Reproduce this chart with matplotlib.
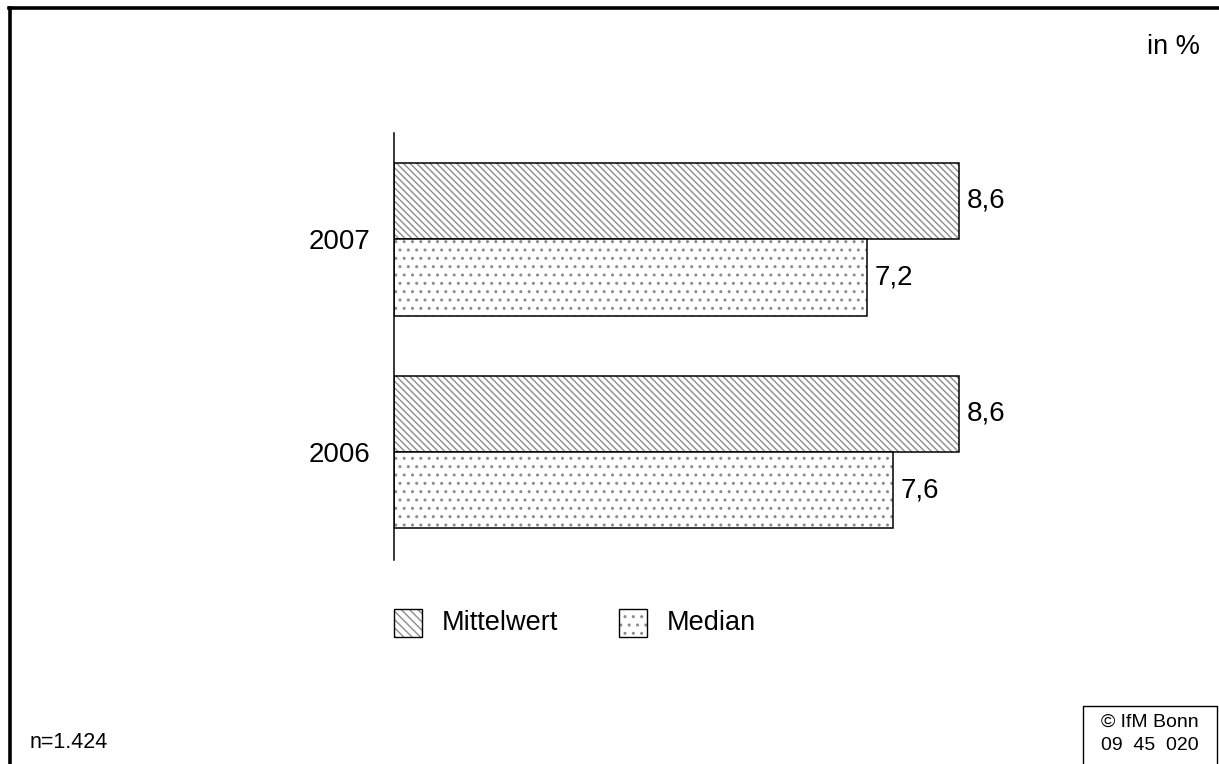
import matplotlib
matplotlib.use("Agg")
import matplotlib.pyplot as plt
from matplotlib.patches import Rectangle
from matplotlib.lines import Line2D

years = ["2006", "2007"]
mittelwert = [8.6, 8.6]
median = [7.6, 7.2]
series_names = ["Mittelwert", "Median"]
value_labels_mw = ["8,6", "8,6"]
value_labels_md = ["7,6", "7,2"]

plt.rcParams['font.family'] = ['Liberation Sans', 'DejaVu Sans']
plt.rcParams['hatch.linewidth'] = 1.0

W, H = 1219, 764
fig = plt.figure(figsize=(W / 100, H / 100), dpi=100)

def fx(px):
    return px / W

def fy(py):
    return 1 - py / H

# axes
ax_left, ax_right = 394, 394 + 657
ax_top, ax_bot = 133, 560
ax = fig.add_axes([fx(ax_left), fy(ax_bot), fx(ax_right - ax_left), (ax_bot - ax_top) / H])
ax.set_xlim(0, 10)
ax.set_ylim(-0.507, 1.498)

ypos = list(range(len(years)))
h = 0.359
hatch_gray = '#8c8c8c'
y_mw = [y + h / 2 for y in ypos]
y_md = [y - h / 2 for y in ypos]

ax.barh(y_mw, mittelwert, height=h, color='white', hatch='\\\\\\\\\\', edgecolor=hatch_gray, linewidth=0)
ax.barh(y_mw, mittelwert, height=h, fill=False, edgecolor='black', linewidth=1.1)
ax.barh(y_md, median, height=h, color='white', hatch='..', edgecolor=hatch_gray, linewidth=0)
ax.barh(y_md, median, height=h, fill=False, edgecolor='black', linewidth=1.1)

for y, v, t in zip(y_mw, mittelwert, value_labels_mw):
    ax.annotate(t, (v, y), xytext=(5.5, 0), textcoords='offset points', va='center', ha='left', fontsize=20)
for y, v, t in zip(y_md, median, value_labels_md):
    ax.annotate(t, (v, y), xytext=(5.5, 0), textcoords='offset points', va='center', ha='left', fontsize=20)

ax.set_yticks(ypos)
ax.set_yticklabels(years, fontsize=20)
ax.tick_params(axis='y', length=0, pad=17)
ax.set_xticks([])
for s in ['top', 'right', 'bottom']:
    ax.spines[s].set_visible(False)
ax.spines['left'].set_linewidth(1.1)
ax.patch.set_visible(False)

# legend
def legend_item(x, y, size, hatch, label, tx):
    r1 = Rectangle((fx(x), fy(y + size)), fx(size), size / H, transform=fig.transFigure,
                   facecolor='white', hatch=hatch, edgecolor=hatch_gray, linewidth=0)
    r2 = Rectangle((fx(x), fy(y + size)), fx(size), size / H, transform=fig.transFigure,
                   fill=False, edgecolor='black', linewidth=1.0)
    fig.add_artist(r1)
    fig.add_artist(r2)
    fig.text(fx(tx), fy(y + size / 2), label, fontsize=19.5, va='center', ha='left')

legend_item(394, 609, 28, '\\\\\\\\', series_names[0], 442)
legend_item(619, 609, 28, '..', series_names[1], 667)

# frame
fig.add_artist(Line2D([fx(10), fx(10)], [fy(7.5), 0], transform=fig.transFigure, color='black', linewidth=2.6))
fig.add_artist(Line2D([fx(8.5), 1], [fy(7.5), fy(7.5)], transform=fig.transFigure, color='black', linewidth=2.6))

fig.text(fx(1200), fy(47), "in %", fontsize=19.5, ha='right', va='center')
fig.text(fx(30), fy(748), "n=1.424", fontsize=15.5, ha='left', va='baseline')

# copyright box
fig.add_artist(Line2D([fx(1083), fx(1083), fx(1217), fx(1217)], [0, fy(706), fy(706), 0],
                      transform=fig.transFigure, color='black', linewidth=1.0))
fig.text(fx(1150), fy(722), "© IfM Bonn", fontsize=14, ha='center', va='center')
fig.text(fx(1150), fy(745), "09  45  020", fontsize=14, ha='center', va='center')

fig.savefig("out.png", dpi=100)
